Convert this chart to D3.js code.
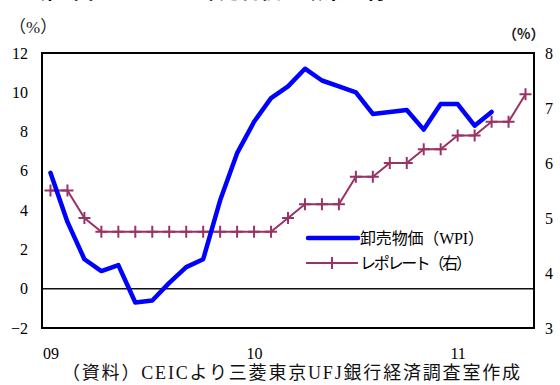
<!DOCTYPE html>
<html>
<head>
<meta charset="utf-8">
<script src="https://cdn.jsdelivr.net/npm/d3@7"></script>
<style>
  html, body { margin: 0; padding: 0; background: #fff; }
  svg { display: block; }
  .serif { font-family: "Liberation Serif", "DejaVu Serif", "Noto Sans CJK JP", serif; }
  .sans { font-family: "Noto Sans CJK JP", "Noto Sans", sans-serif; }
</style>
</head>
<body>
<svg id="chart" width="560" height="385"></svg>
<script>
// Monthly observations, Jan 2009 – May 2011
const months = [
  "2009-01","2009-02","2009-03","2009-04","2009-05","2009-06","2009-07","2009-08","2009-09","2009-10","2009-11","2009-12",
  "2010-01","2010-02","2010-03","2010-04","2010-05","2010-06","2010-07","2010-08","2010-09","2010-10","2010-11","2010-12",
  "2011-01","2011-02","2011-03","2011-04","2011-05"
];
// Wholesale price inflation, % y/y (left axis)
const wpi = [5.9, 3.4, 1.5, 0.9, 1.2, -0.7, -0.6, 0.3, 1.1, 1.5, 4.5, 6.9,
             8.5, 9.7, 10.3, 11.2, 10.6, 10.3, 10.0, 8.9, 9.0, 9.1, 8.1, 9.4,
             9.4, 8.3, 9.0];
// Policy repo rate, % (right axis)
const repo = [5.5, 5.5, 5.0, 4.75, 4.75, 4.75, 4.75, 4.75, 4.75, 4.75, 4.75, 4.75,
              4.75, 4.75, 5.0, 5.25, 5.25, 5.25, 5.75, 5.75, 6.0, 6.0, 6.25, 6.25,
              6.5, 6.5, 6.75, 6.75, 7.25];
const leftTicks = [-2, 0, 2, 4, 6, 8, 10, 12];
const rightTicks = [3, 4, 5, 6, 7, 8];
const yearTicks = [{month: "2009-01", label: "09"}, {month: "2010-01", label: "10"}, {month: "2011-01", label: "11"}];
const seriesNames = ["卸売物価（WPI）", "レポレート（右）"];
const titleText = "第3図：インドの卸売物価と政策金利";
const sourceText = "（資料）CEICより三菱東京UFJ銀行経済調査室作成";

const svg = d3.select("#chart");
const plot = {left: 42, right: 534, top: 53, bottom: 328};
const blue = "#0000ff";
const maroon = "#993366";

const x = d3.scalePoint().domain(months).range([plot.left, plot.right]).padding(0.5);
const yL = d3.scaleLinear().domain([-2, 12]).range([plot.bottom, plot.top]);
const yR = d3.scaleLinear().domain([3, 8]).range([plot.bottom, plot.top]);

// Title (sits at the very top edge; only its lowest strokes show)
svg.append("text").attr("class", "sans")
  .attr("x", 40).attr("y", -1)
  .attr("font-size", 20).attr("font-weight", "bold").attr("fill", "#000")
  .attr("textLength", 345).attr("lengthAdjust", "spacing")
  .text(titleText);

// Unit labels
svg.append("text").attr("class", "serif")
  .attr("x", 9).attr("y", 33).attr("font-size", 17).attr("fill", "#222")
  .text("（%）");
svg.append("text").attr("class", "sans")
  .attr("x", 503).attr("y", 39).attr("font-size", 14).attr("font-weight", "bold").attr("fill", "#222")
  .text("（%）");

// Left axis
const axL = svg.append("g").attr("class", "serif")
  .attr("transform", `translate(${plot.left},0)`)
  .call(d3.axisLeft(yL).tickValues(leftTicks).tickSize(0).tickPadding(14).tickFormat(d3.format("d")));
axL.select(".domain").remove();
axL.selectAll("text").attr("font-size", 16).attr("fill", "#000").attr("font-family", null);

// Right axis
const axR = svg.append("g").attr("class", "serif")
  .attr("transform", `translate(${plot.right},0)`)
  .call(d3.axisRight(yR).tickValues(rightTicks).tickSize(0).tickPadding(11).tickFormat(d3.format("d")));
axR.select(".domain").remove();
axR.selectAll("text").attr("font-size", 16).attr("fill", "#000").attr("font-family", null);

// Year labels
const axX = svg.append("g").attr("class", "serif")
  .attr("transform", `translate(0,${plot.bottom})`)
  .call(d3.axisBottom(x).tickValues(yearTicks.map(d => d.month)).tickSize(0).tickPadding(20)
    .tickFormat(m => yearTicks.find(d => d.month === m).label));
axX.select(".domain").remove();
axX.selectAll("text").attr("font-size", 16).attr("fill", "#000").attr("font-family", null);

// Zero line
svg.append("line")
  .attr("x1", plot.left).attr("x2", plot.right)
  .attr("y1", yL(0)).attr("y2", yL(0))
  .attr("stroke", "#111").attr("stroke-width", 1.5);

// Repo rate line with cross markers
const lineR = d3.line().x((d, i) => x(months[i])).y(d => yR(d));
svg.append("path").datum(repo)
  .attr("d", lineR).attr("fill", "none")
  .attr("stroke", maroon).attr("stroke-width", 2);
function cross(sel, cx, cy) {
  const g = sel.append("g").attr("transform", `translate(${cx},${cy})`);
  g.append("line").attr("x1", -6).attr("x2", 6).attr("y1", 0).attr("y2", 0)
    .attr("stroke", maroon).attr("stroke-width", 2);
  g.append("line").attr("x1", 0).attr("x2", 0).attr("y1", -6).attr("y2", 6)
    .attr("stroke", maroon).attr("stroke-width", 2);
}
const markers = svg.append("g");
repo.forEach((v, i) => cross(markers, x(months[i]), yR(v)));

// WPI line
const lineL = d3.line().x((d, i) => x(months[i])).y(d => yL(d));
svg.append("path").datum(wpi)
  .attr("d", lineL).attr("fill", "none")
  .attr("stroke", blue).attr("stroke-width", 4.5)
  .attr("stroke-linejoin", "round").attr("stroke-linecap", "round");

// Frame
svg.append("rect")
  .attr("x", plot.left).attr("y", plot.top)
  .attr("width", plot.right - plot.left).attr("height", plot.bottom - plot.top)
  .attr("fill", "none").attr("stroke", "#000").attr("stroke-width", 2);

// Legend
const lg = svg.append("g");
lg.append("line").attr("x1", 308).attr("x2", 358).attr("y1", 238).attr("y2", 238)
  .attr("stroke", blue).attr("stroke-width", 4.5).attr("stroke-linecap", "round");
lg.append("text").attr("class", "serif").attr("x", 360).attr("y", 244)
  .attr("font-size", 16).attr("fill", "#000")
  .attr("textLength", 124).attr("lengthAdjust", "spacing").text(seriesNames[0]);
lg.append("line").attr("x1", 306).attr("x2", 358).attr("y1", 263).attr("y2", 263)
  .attr("stroke", maroon).attr("stroke-width", 2);
cross(lg, 332, 263);
lg.append("text").attr("class", "serif").attr("x", 360).attr("y", 269)
  .attr("font-size", 16).attr("fill", "#000")
  .attr("textLength", 112).attr("lengthAdjust", "spacing").text(seriesNames[1]);

// Source note
svg.append("text").attr("class", "serif")
  .attr("x", 62).attr("y", 379)
  .attr("font-size", 18).attr("fill", "#111")
  .attr("textLength", 458).attr("lengthAdjust", "spacing")
  .text(sourceText);
</script>
</body>
</html>
